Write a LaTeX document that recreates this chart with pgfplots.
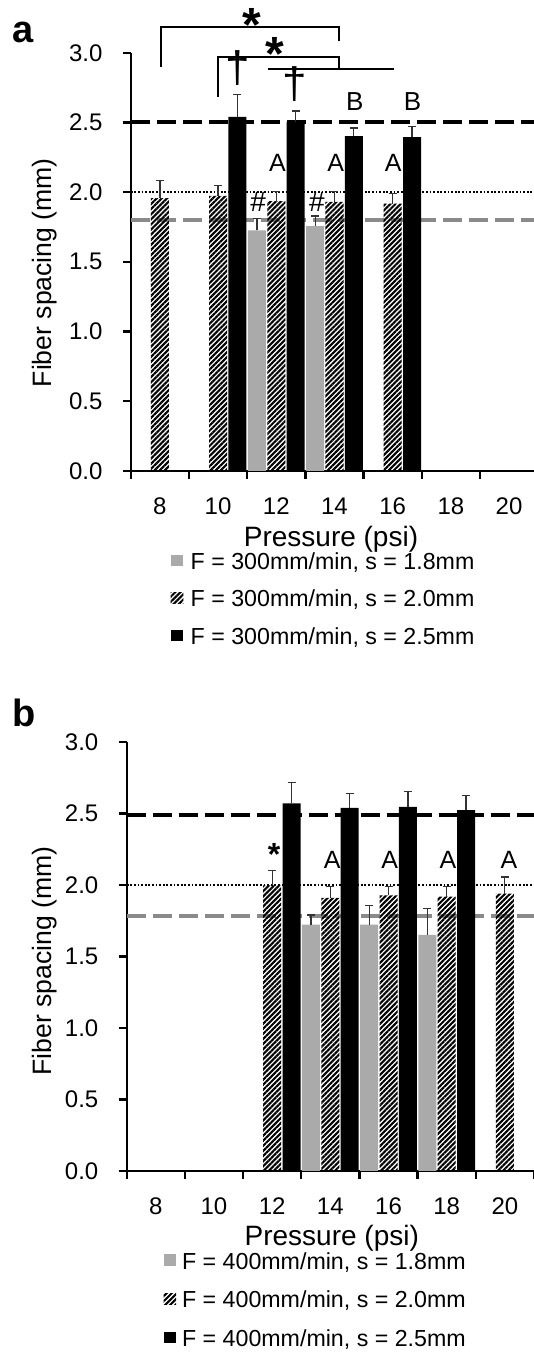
\documentclass[border=0pt]{standalone}
\usepackage{fontspec}
\setmainfont{Liberation Sans}
\usepackage{pgfplots}
\pgfplotsset{compat=1.18}
\usetikzlibrary{patterns.meta}
\definecolor{barGray}{HTML}{AAAAAA}
\definecolor{refGray}{HTML}{8A8A8A}
\newcommand{\fs}[1]{\fontsize{#1}{#1}\selectfont}

\pgfplotsset{
  sq legend/.style={legend image code/.code={\fill[##1] (0bp,-2.5bp) rectangle (6.3bp,3.15bp);}},
  errs/.style={
    error bars/y dir=plus, error bars/y explicit,
    error bars/error bar style={black!80, line width=0.6bp},
    error bars/error mark options={rotate=90, black!80, line width=0.6bp, mark size=2bp}},
  graybar/.style={ybar, bar width=0.31, bar shift=0, fill=barGray, draw=none, sq legend, errs},
  hatchbar/.style={ybar, bar width=0.31, bar shift=0, draw=none,
    pattern={Lines[angle=45,distance=1.8bp,line width=1.05bp]}, pattern color=black, sq legend, errs},
  blackbar/.style={ybar, bar width=0.31, bar shift=0, fill=black, draw=none, sq legend, errs},
  refA/.style={black, line width=2bp, dash pattern=on 9.5bp off 3.5bp, forget plot},
  refB/.style={black, line width=1.1bp, dash pattern=on 0.9bp off 0.9bp, forget plot},
  refC/.style={refGray, line width=2bp, dash pattern=on 9.5bp off 3.5bp, forget plot},
  panel/.style={
    scale only axis,
    anchor=south west,
    axis lines*=left,
    axis line style={line width=1.2bp},
    every tick/.style={line width=1.2bp, black},
    tick align=outside,
    major tick length=4bp,
    ymin=0, ymax=3,
    ytick={0,0.5,1,1.5,2,2.5,3},
    /pgf/number format/assume math mode=true,
    yticklabel style={/pgf/number format/.cd, fixed, fixed zerofill, precision=1, /tikz/.cd,
      font=\fs{12bp}, anchor=east, inner sep=0pt, xshift=-10bp},
    xtick={-0.5,0.5,...,6.5},
    xticklabels={},
    extra x ticks={0,1,2,3,4,5,6},
    extra x tick labels={8,10,12,14,16,18,20},
    extra x tick style={major tick length=0pt,
      tick label style={font=\fs{12bp}, anchor=base, inner sep=0pt, yshift=-22bp}},
    clip=false,
    xlabel={Pressure (psi)},
    ylabel={Fiber spacing (mm)},
    legend cell align=left,
  },
}

\begin{document}
\begin{tikzpicture}
\path[use as bounding box] (0bp,0bp) rectangle (267bp,-676.5bp);

% ---------------- panel a ----------------
\begin{axis}[panel,
  at={(65.4bp,-235.4bp)}, width=201.65bp, height=209bp,
  xmin=-0.5, xmax=6.43,
  xlabel style={at={(axis description cs:0.4964,-0.1805)}, anchor=base, inner sep=0pt, font=\fs{14bp}},
  ylabel style={at={(axis description cs:-0.1959,0.474)}, anchor=base, inner sep=0pt, font=\fs{13.3bp}},
  legend style={at={(axis description cs:0.099,-0.1955)}, anchor=north west, draw=none, fill=none,
    inner sep=0pt, outer sep=0pt, row sep=10.55bp, font=\fs{11.6bp},
    nodes={inner sep=0pt, text height=8.3bp, text depth=0pt},
    /tikz/every odd column/.append style={column sep=3.7bp}},
]
\addplot[refA] coordinates {(-0.5,2.5) (6.43,2.5)};
\addplot[refB] coordinates {(-0.5,2.0) (6.43,2.0)};
\addplot[refC] coordinates {(-0.5,1.8) (6.43,1.8)};
\addplot[graybar] coordinates {(1.667,1.725) +- (0,0.086) (2.667,1.757) +- (0,0.072)};
\addlegendentry{F = 300mm/min, s = 1.8mm}
\addplot[hatchbar] coordinates {(0,1.957) +- (0,0.127) (1,1.974) +- (0,0.073) (2,1.935) +- (0,0.07) (3,1.93) +- (0,0.075) (4,1.918) +- (0,0.075)};
\addlegendentry{F = 300mm/min, s = 2.0mm}
\node[anchor=base, inner sep=0pt, font=\fs{12.5bp}] at (axis cs:2.02,2.147) {A};
\node[anchor=base, inner sep=0pt, font=\fs{12.5bp}] at (axis cs:3.02,2.147) {A};
\node[anchor=base, inner sep=0pt, font=\fs{12.5bp}] at (axis cs:4.01,2.147) {A};
\addplot[blackbar] coordinates {(1.333,2.541) +- (0,0.16) (2.333,2.505) +- (0,0.078) (3.333,2.402) +- (0,0.058) (4.333,2.394) +- (0,0.076)};
\addlegendentry{F = 300mm/min, s = 2.5mm}
% annotations
\node[anchor=base, inner sep=0pt, font=\fs{14bp}] at (axis cs:1.69,1.86) {\#};
\node[anchor=base, inner sep=0pt, font=\fs{14bp}] at (axis cs:2.70,1.86) {\#};
\node[anchor=center, inner sep=0pt, font=\fs{22bp}] at (axis cs:1.33,2.89) {†};
\node[anchor=center, inner sep=0pt, font=\fs{22bp}] at (axis cs:2.32,2.775) {†};
\node[anchor=base, inner sep=0pt, font=\fs{13bp}] at (axis cs:3.35,2.585) {B};
\node[anchor=base, inner sep=0pt, font=\fs{13bp}] at (axis cs:4.34,2.585) {B};
\draw[line width=0.9bp] (axis cs:0.014,2.901) |- (axis cs:3.08,3.188) -- (axis cs:3.08,3.088);
\draw[line width=0.9bp] (axis cs:1.003,2.686) |- (axis cs:3.08,2.968) -- (axis cs:3.08,2.889);
\draw[line width=0.9bp] (axis cs:1.852,2.882) -- (axis cs:4.022,2.882);
\node[anchor=north, inner sep=0pt, font=\bfseries\fs{24bp}] at (axis cs:1.577,3.322) {*};
\node[anchor=north, inner sep=0pt, font=\bfseries\fs{24bp}] at (axis cs:1.978,3.116) {*};
\end{axis}
\node[anchor=base west, inner sep=0pt, font=\bfseries\fs{19bp}] at (6bp,-21bp) {a};

% ---------------- panel b ----------------
\begin{axis}[panel,
  at={(63.35bp,-585.45bp)}, width=203.65bp, height=214.45bp,
  xmin=-0.5, xmax=6.5,
  xlabel style={at={(axis description cs:0.5036,-0.1728)}, anchor=base, inner sep=0pt, font=\fs{14bp}},
  ylabel style={at={(axis description cs:-0.1856,0.489)}, anchor=base, inner sep=0pt, font=\fs{13.3bp}},
  legend style={at={(axis description cs:0.0904,-0.1902)}, anchor=north west, draw=none, fill=none,
    inner sep=0pt, outer sep=0pt, row sep=11bp, font=\fs{11.6bp},
    nodes={inner sep=0pt, text height=8.3bp, text depth=0pt},
    /tikz/every odd column/.append style={column sep=3bp}},
]
\addplot[refA] coordinates {(-0.5,2.49) (6.5,2.49)};
\addplot[refB] coordinates {(-0.5,2.0) (6.5,2.0)};
\addplot[refC] coordinates {(-0.5,1.78) (6.5,1.78)};
\addplot[graybar] coordinates {(2.667,1.723) +- (0,0.067) (3.667,1.723) +- (0,0.131) (4.667,1.651) +- (0,0.182)};
\addlegendentry{F = 400mm/min, s = 1.8mm}
\addplot[hatchbar] coordinates {(2,1.997) +- (0,0.103) (3,1.909) +- (0,0.083) (4,1.928) +- (0,0.064) (5,1.919) +- (0,0.073) (6,1.94) +- (0,0.116)};
\addlegendentry{F = 400mm/min, s = 2.0mm}
\node[anchor=base, inner sep=0pt, font=\fs{12.5bp}] at (axis cs:3.03,2.112) {A};
\node[anchor=base, inner sep=0pt, font=\fs{12.5bp}] at (axis cs:4.02,2.112) {A};
\node[anchor=base, inner sep=0pt, font=\fs{12.5bp}] at (axis cs:5.02,2.112) {A};
\node[anchor=base, inner sep=0pt, font=\fs{12.5bp}] at (axis cs:6.07,2.112) {A};
\addplot[blackbar] coordinates {(2.333,2.571) +- (0,0.148) (3.333,2.54) +- (0,0.102) (4.333,2.547) +- (0,0.105) (5.333,2.524) +- (0,0.10)};
\addlegendentry{F = 400mm/min, s = 2.5mm}
\node[anchor=north, inner sep=0pt, font=\bfseries\fs{16bp}] at (axis cs:2.034,2.29) {*};
\end{axis}
\node[anchor=base west, inner sep=0pt, font=\bfseries\fs{19bp}] at (6bp,-363.35bp) {b};
\end{tikzpicture}
\end{document}
